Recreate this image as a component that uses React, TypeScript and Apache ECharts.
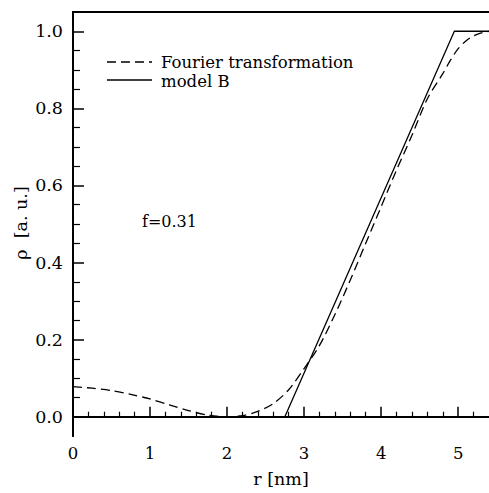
import React, { useEffect, useRef } from "react";
import * as echarts from "echarts";

const fourierR = [0, 0.25, 0.5, 0.75, 1.0, 1.25, 1.5, 1.75, 2.0, 2.2, 2.4, 2.6, 2.8, 3.0, 3.2, 3.4, 3.6, 3.8, 4.0, 4.2, 4.4, 4.6, 4.8, 4.9, 5.0, 5.1, 5.2, 5.3, 5.4];
const fourierRho = [0.078, 0.074, 0.068, 0.058, 0.046, 0.031, 0.016, 0.004, 0.0, 0.003, 0.014, 0.034, 0.07, 0.125, 0.185, 0.265, 0.355, 0.45, 0.545, 0.64, 0.73, 0.825, 0.89, 0.925, 0.955, 0.975, 0.988, 0.996, 1.0];
const modelR = [0, 2.75, 4.95, 5.4];
const modelRho = [0, 0, 1, 1];
const xMajorTicks = [0, 1, 2, 3, 4, 5];
const xMinorTicks = [0.2, 0.4, 0.6, 0.8, 1.2, 1.4, 1.6, 1.8, 2.2, 2.4, 2.6, 2.8, 3.2, 3.4, 3.6, 3.8, 4.2, 4.4, 4.6, 4.8, 5.2];
const yMajorTicks = [0, 0.2, 0.4, 0.6, 0.8, 1.0];
const yMinorTicks = [0.05, 0.1, 0.15, 0.25, 0.3, 0.35, 0.45, 0.5, 0.55, 0.65, 0.7, 0.75, 0.85, 0.9, 0.95];
const legendLabels = ["Fourier transformation", "model B"];
const annotation = "f=0.31";

const FONT = "DejaVu Serif";

export default function App() {
  const ref = useRef<HTMLDivElement>(null);
  useEffect(() => {
    if (!ref.current) return;
    const chart = echarts.init(ref.current, undefined, { renderer: "svg" });
    const axisLine = { show: true, lineStyle: { color: "#000", width: 2 } };
    const baseX = { type: "value", min: 0, max: 5.4, position: "bottom", axisLine, splitLine: { show: false } };
    const baseY = { type: "value", min: -0.05, max: 1.05, position: "left", axisLine, splitLine: { show: false } };
    const txt = (size: number) => ({ fontFamily: FONT, fontSize: size, fill: "#000" });
    chart.setOption({
      animation: false,
      backgroundColor: "#fff",
      grid: { left: 73, top: 12, right: 0, bottom: 53, containLabel: false },
      xAxis: [
        {
          ...baseX,
          name: "r [nm]",
          nameLocation: "middle",
          nameGap: 34,
          nameTextStyle: { fontFamily: FONT, fontSize: 17.5, color: "#000" },
          axisTick: { show: true, inside: true, length: 10, lineStyle: { color: "#000", width: 1.5 }, customValues: xMajorTicks },
          axisLabel: { show: true, margin: 9, fontFamily: FONT, fontSize: 16.5, color: "#000", customValues: xMajorTicks, formatter: (v: number) => String(Math.round(v)) },
        },
        {
          ...baseX,
          axisTick: { show: true, inside: true, length: 5, lineStyle: { color: "#000", width: 1.2 }, customValues: xMinorTicks },
          axisLabel: { show: false },
        },
        {
          ...baseX,
          position: "top",
          axisTick: { show: false },
          axisLabel: { show: false },
        },
      ],
      yAxis: [
        {
          ...baseY,
          axisTick: { show: true, inside: true, length: 11, lineStyle: { color: "#000", width: 1.5 }, customValues: yMajorTicks },
          axisLabel: { show: true, margin: 10, fontFamily: FONT, fontSize: 17.5, color: "#000", customValues: yMajorTicks, formatter: (v: number) => v.toFixed(1) },
        },
        {
          ...baseY,
          axisTick: { show: true, inside: true, length: 7, lineStyle: { color: "#000", width: 1.2 }, customValues: yMinorTicks },
          axisLabel: { show: false },
        },
      ],
      series: [
        {
          name: legendLabels[0],
          type: "line",
          xAxisIndex: 0,
          yAxisIndex: 0,
          data: fourierR.map((r, i) => [r, fourierRho[i]]),
          showSymbol: false,
          smooth: 0.3,
          lineStyle: { color: "#000", width: 1.3, type: [9, 5] },
          clip: true,
        },
        {
          name: legendLabels[1],
          type: "line",
          xAxisIndex: 0,
          yAxisIndex: 0,
          data: modelR.map((r, i) => [r, modelRho[i]]),
          showSymbol: false,
          lineStyle: { color: "#000", width: 1.3 },
          clip: true,
        },
      ],
      graphic: [
        { type: "line", shape: { x1: 107, y1: 62, x2: 152, y2: 62 }, style: { stroke: "#000", lineWidth: 1.3, lineDash: [9, 5] } },
        { type: "text", x: 161, y: 62, style: { text: legendLabels[0], ...txt(16.5), lineHeight: 15, align: "left", verticalAlign: "middle" } },
        { type: "line", shape: { x1: 107, y1: 80, x2: 152, y2: 80 }, style: { stroke: "#000", lineWidth: 1.3 } },
        { type: "text", x: 161, y: 81, style: { text: legendLabels[1], ...txt(16.5), lineHeight: 15, align: "left", verticalAlign: "middle" } },
        { type: "text", x: 142, y: 221, style: { text: annotation, ...txt(16), align: "left", verticalAlign: "middle" } },
        { type: "text", x: 21, y: 223, rotation: Math.PI / 2, style: { text: "ρ  [a. u.]", ...txt(17.5), align: "center", verticalAlign: "middle" } },
      ],
    });
    return () => chart.dispose();
  }, []);
  return <div ref={ref} style={{ position: "absolute", left: 0, top: 0, width: 489, height: 493 }} />;
}
